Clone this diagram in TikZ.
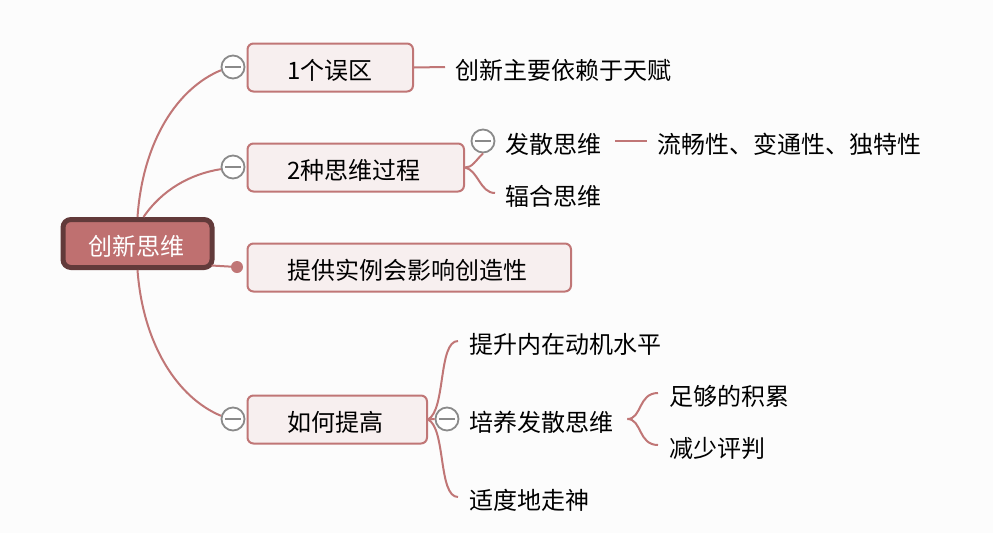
\documentclass[tikz,border=0pt]{standalone}
\usepackage{fontspec}
\setmainfont{Noto Sans CJK SC}
\usetikzlibrary{calc,positioning}
\definecolor{fondo}{HTML}{FCFCFC}
\definecolor{rama}{HTML}{C07676}
\definecolor{relleno}{HTML}{F7EFEF}
\definecolor{raiz}{HTML}{BF7070}
\definecolor{borde}{HTML}{623A3A}
\definecolor{gris}{HTML}{8A8A8A}
\tikzset{
    raizbox/.style={rectangle,draw=borde,fill=raiz,line width=5pt,rounded corners=8pt,text=white,text width=99pt,align=left,inner xsep=25pt,minimum height=48pt,inner ysep=0pt,text height=24pt,text depth=0pt,node font=\fontsize{24}{28}\selectfont},
    temabox/.style={rectangle,draw=rama,fill=relleno,line width=2pt,rounded corners=6pt,align=left,inner xsep=40pt,minimum height=48pt,inner ysep=0pt,text height=24pt,text depth=0pt,anchor=west,node font=\fontsize{24}{28}\selectfont},
    hoja/.style={anchor=west,inner xsep=10pt,inner ysep=0pt,text height=24pt,text depth=0pt,node font=\fontsize{24}{28}\selectfont},
    plegar/.style={circle,draw=gris,fill=white,line width=1.8pt,minimum size=23pt,inner sep=0pt,
        path picture={\draw[gris,line width=1.5pt] ([xshift=-8pt]path picture bounding box.center)--([xshift=8pt]path picture bounding box.center);}},
    punto/.style={circle,fill=rama,minimum size=12pt,inner sep=0pt},
    rama/.style={draw=rama,line width=2pt},
}
\begin{document}
\begin{tikzpicture}[x=1pt,y=-1pt]
\useasboundingbox[fill=fondo] (0,0) rectangle (993,533);

\node[raizbox] (raiz) at (137.5,243.5) {创新思维};

\node[temabox,text width=85.5pt]  (t1) at (246.5,67.5)  {1个误区};
\node[temabox,text width=136.5pt] (t2) at (246.5,167.5) {2种思维过程};
\node[temabox,text width=243.5pt] (t3) at (246.5,267.5) {提供实例会影响创造性};
\node[temabox,text width=99.5pt]  (t4) at (246.5,419.5) {如何提高};

\node[plegar] (p1) at (233,67)  {};
\node[plegar] (p2) at (233,167) {};
\node[punto]  (d3) at (237,267) {};
\node[plegar] (p4) at (233,419) {};

\node[hoja] (h1) at (445,67) {创新主要依赖于天赋};

\node[hoja] (fasan) at (495,141) {发散思维};
\node[hoja] (fuhe)  at (495,193) {辐合思维};
\node[hoja] (rasgos) at (647,141) {流畅性、变通性、独特性};
\node[plegar] (p5) at (483,141) {};

\node[hoja,inner xsep=11pt] (motivo) at (458,341) {提升内在动机水平};
\node[hoja,inner xsep=11pt] (cultivo) at (458,419) {培养发散思维};
\node[hoja,inner xsep=11pt] (mente)  at (458,497) {适度地走神};
\node[plegar] (p6) at (447,419) {};

\node[hoja,inner xsep=11pt] (acum) at (658,393) {足够的积累};
\node[hoja,inner xsep=11pt] (juicio) at (658,445) {减少评判};

\draw[rama] (raiz.north) .. controls (143,140) and (178,88) .. (p1.195);
\draw[rama] ([xshift=6pt]raiz.north) .. controls (162,190) and (190,174) .. (p2.190);
\draw[rama] ([yshift=-22pt,xshift=-3pt]raiz.east) -- (d3.center);
\draw[rama] (raiz.south) .. controls (143,345) and (178,398) .. (p4.165);

\draw[rama] (t1.east) -- (h1.west);
\draw[rama] (t2.east) .. controls (472,168) and (476,160) .. (p5.south);
\draw[rama] (t2.east) .. controls (478,170) and (480,193) .. (fuhe.west);
\draw[rama,shorten <=4pt] (fasan.east) -- (rasgos.west);

\draw[rama] (t4.east) .. controls (446,410) and (438,341) .. (motivo.west);
\draw[rama] (t4.east) -- (p6.west);
\draw[rama] (t4.east) .. controls (446,428) and (438,497) .. (mente.west);
\draw[rama] ([xshift=3pt]cultivo.east) .. controls (642,419) and (638,393) .. (acum.west);
\draw[rama] ([xshift=3pt]cultivo.east) .. controls (642,419) and (638,445) .. (juicio.west);
\end{tikzpicture}
\end{document}
